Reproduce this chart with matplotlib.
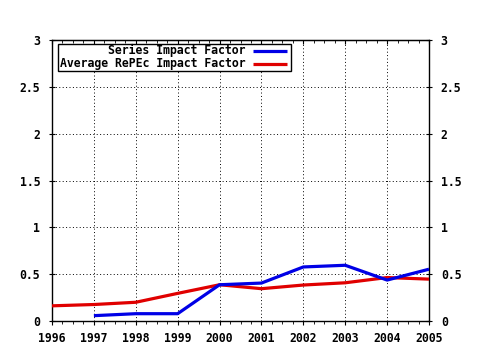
import matplotlib
matplotlib.use("Agg")
import matplotlib.pyplot as plt
from matplotlib.ticker import AutoMinorLocator, FuncFormatter
from matplotlib.patches import Rectangle
from matplotlib.lines import Line2D

years_blue = [1997, 1998, 1999, 2000, 2001, 2002, 2003, 2004, 2005]
series_if = [0.057, 0.078, 0.078, 0.387, 0.405, 0.577, 0.595, 0.437, 0.553]
years_red = [1996, 1997, 1998, 1999, 2000, 2001, 2002, 2003, 2004, 2005]
average_if = [0.162, 0.176, 0.200, 0.295, 0.387, 0.345, 0.384, 0.408, 0.464, 0.447]
x_ticks = list(range(1996, 2006))
y_ticks = [0, 0.5, 1, 1.5, 2, 2.5, 3]
legend_labels = ["Series Impact Factor", "Average RePEc Impact Factor"]

W, H = 480, 350
fig = plt.figure(figsize=(4.8, 3.5), dpi=100)
L, R, T, B = 52, 429, 40, 321
ax = fig.add_axes([L / W, 1 - B / H, (R - L) / W, (B - T) / H])

font = dict(family="DejaVu Sans Mono", weight="bold", size=8.3)

blue = "#0000e6"
red = "#e00000"
ax.plot(years_red, average_if, color=red, lw=2.3, solid_capstyle="butt", zorder=3)
ax.plot(years_blue, series_if, color=blue, lw=2.3, solid_capstyle="butt", zorder=4)

ax.set_xlim(1996, 2005)
ax.set_ylim(0, 3)
ax.set_xticks(x_ticks)
ax.set_yticks(y_ticks)
ax.xaxis.set_minor_locator(AutoMinorLocator(4))
ax.yaxis.set_major_formatter(FuncFormatter(lambda v, p: ("%g" % v)))
ax.grid(True, which="major", color="black", linestyle=(0, (1, 2.5)), linewidth=0.7)
ax.set_axisbelow(True)

ax.tick_params(axis="x", which="major", direction="out", length=3, top=False, pad=5)
ax.tick_params(axis="x", which="minor", direction="out", length=2, top=False)
ax.tick_params(axis="y", which="major", direction="inout", length=5, left=True,
               right=True, labelright=True, pad=6)
fp = matplotlib.font_manager.FontProperties(**font)
for lab in ax.get_xticklabels() + ax.get_yticklabels() + ax.yaxis.get_ticklabels():
    lab.set_fontproperties(fp)
for t in ax.yaxis.get_major_ticks():
    t.label2.set_fontproperties(fp)
for sp in ax.spines.values():
    sp.set_color("black")
    sp.set_linewidth(1)

# top ticks pointing inward
sec = ax.secondary_xaxis("top")
sec.set_xticks(x_ticks)
sec.xaxis.set_minor_locator(AutoMinorLocator(4))
sec.tick_params(axis="x", which="major", direction="in", length=3, labeltop=False)
sec.tick_params(axis="x", which="minor", direction="in", length=2)
sec.set_xticklabels([])

# legend drawn in pixel coordinates
def px(x, y):
    return ((x - L) / (R - L), (B - y) / (B - T))

x0, y0 = px(58, 71)
x1, y1 = px(291, 44)
ax.add_patch(Rectangle((x0, y0), x1 - x0, y1 - y0, transform=ax.transAxes,
                       facecolor="white", edgecolor="black", lw=1, zorder=6))
rows = [(50.5, blue), (63.5, red)]
for (ypx, col), lab in zip(rows, legend_labels):
    tx, ty = px(246, ypx)
    ax.text(tx, ty, lab, transform=ax.transAxes, ha="right", va="center",
            zorder=7, **font)
    lx0, ly = px(253, ypx)
    lx1, _ = px(287, ypx)
    ax.add_line(Line2D([lx0, lx1], [ly, ly], transform=ax.transAxes, color=col,
                       lw=2.3, solid_capstyle="butt", zorder=7))

fig.savefig("out.png", dpi=100)
